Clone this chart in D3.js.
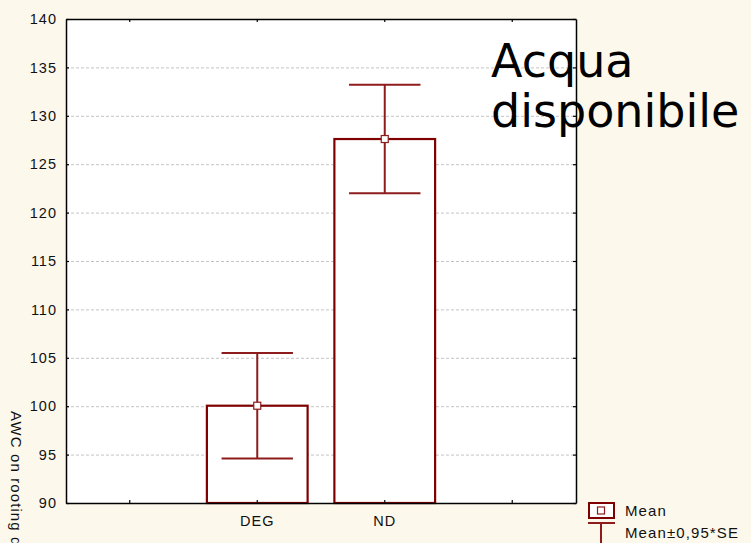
<!DOCTYPE html>
<html>
<head>
<meta charset="utf-8">
<script src="https://cdn.jsdelivr.net/npm/d3@7"></script>
<style>
  html, body { margin: 0; padding: 0; background: #fdf8ec; }
  svg { display: block; }
</style>
</head>
<body>
<svg id="chart" width="751" height="543"></svg>
<script>
// Category slots along the x axis (outer ones are empty)
const slots = ["", "DEG", "ND", " "];
const groups = ["DEG", "ND"];
const means = [100.05, 127.6];
const halfSE = [5.45, 5.6];          // 0.95 * SE
const yTicks = [90, 95, 100, 105, 110, 115, 120, 125, 130, 135, 140];

const W = 751, H = 543;
const plot = { left: 66, right: 576, top: 19, bottom: 503 };
const dark = "#7f0000";
const whisk = "#8e1c1c";
const fontTick = "Liberation Sans, Arial, sans-serif";

const svg = d3.select("#chart");
svg.append("rect").attr("width", W).attr("height", H).attr("fill", "#fdf8ec");

const x = d3.scaleBand().domain(slots).range([plot.left, plot.right]);
const y = d3.scaleLinear().domain([90, 140]).range([plot.bottom, plot.top]);
const step = x.step();
const cx = d => x(d) + step / 2;

// plot area
svg.append("rect")
  .attr("x", plot.left).attr("y", plot.top)
  .attr("width", plot.right - plot.left).attr("height", plot.bottom - plot.top)
  .attr("fill", "#ffffff");

// horizontal grid
svg.append("g").selectAll("line")
  .data(yTicks.filter(t => t > 90 && t < 140))
  .join("line")
  .attr("x1", plot.left).attr("x2", plot.right)
  .attr("y1", d => y(d) + 0.5).attr("y2", d => y(d) + 0.5)
  .attr("stroke", "#c4c4c4").attr("stroke-width", 1)
  .attr("stroke-dasharray", "3,2");

// bars
svg.append("g").selectAll("rect")
  .data(groups)
  .join("rect")
  .attr("x", d => cx(d) - step * 0.395)
  .attr("width", step * 0.79)
  .attr("y", (d, i) => y(means[i]))
  .attr("height", (d, i) => y(90) - y(means[i]))
  .attr("fill", "#ffffff")
  .attr("stroke", dark).attr("stroke-width", 2.2);

// error whiskers
const eg = svg.append("g").attr("stroke", whisk).attr("stroke-width", 2);
groups.forEach((g, i) => {
  const c = cx(g);
  const lo = y(means[i] - halfSE[i]), hi = y(means[i] + halfSE[i]);
  eg.append("line").attr("x1", c).attr("x2", c).attr("y1", hi).attr("y2", lo);
  eg.append("line").attr("x1", c - step * 0.28).attr("x2", c + step * 0.28).attr("y1", hi).attr("y2", hi);
  eg.append("line").attr("x1", c - step * 0.28).attr("x2", c + step * 0.28).attr("y1", lo).attr("y2", lo);
});

// mean markers
svg.append("g").selectAll("rect")
  .data(groups)
  .join("rect")
  .attr("x", d => cx(d) - 3.5).attr("y", (d, i) => y(means[i]) - 3.5)
  .attr("width", 7).attr("height", 7)
  .attr("fill", "#ffffff").attr("stroke", whisk).attr("stroke-width", 1.2);

// axes (ticks point inward, as on a framed plot)
const axLeft = svg.append("g").attr("transform", `translate(${plot.left},0)`)
  .call(d3.axisLeft(y).tickValues(yTicks).tickSizeInner(-3).tickSizeOuter(0).tickPadding(9));
const axRight = svg.append("g").attr("transform", `translate(${plot.right},0)`)
  .call(d3.axisRight(y).tickValues(yTicks).tickSizeInner(-3).tickSizeOuter(0).tickFormat(""));
const axBottom = svg.append("g").attr("transform", `translate(0,${plot.bottom})`)
  .call(d3.axisBottom(x).tickSizeInner(-3).tickSizeOuter(0).tickPadding(13));
const axTop = svg.append("g").attr("transform", `translate(0,${plot.top})`)
  .call(d3.axisTop(x).tickSizeInner(-3).tickSizeOuter(0).tickFormat(""));
[axLeft, axRight, axBottom, axTop].forEach(a => {
  a.select(".domain").attr("stroke", "#000").attr("stroke-width", 1.5);
  a.selectAll(".tick line").attr("stroke", "#000").attr("stroke-width", 1.2);
  a.selectAll("text").attr("fill", "#111").style("font-family", fontTick)
    .style("font-size", "14.5px").attr("letter-spacing", "1px");
});
axBottom.selectAll("text").attr("dy", "0.71em");

// y axis title (runs off the bottom edge)
svg.append("text")
  .attr("transform", "translate(11,411) rotate(90)")
  .attr("font-family", fontTick).attr("font-size", 15).attr("letter-spacing", "1.1px")
  .attr("fill", "#111")
  .text("AWC on rooting depth");

// annotation
const ann = svg.append("text")
  .attr("font-family", "DejaVu Sans, sans-serif").attr("font-size", 46).attr("fill", "#000");
ann.append("tspan").attr("x", 491).attr("y", 77).text("Acqua");
ann.append("tspan").attr("x", 491).attr("y", 127).text("disponibile");

// legend
const lg = svg.append("g");
lg.append("rect").attr("x", 589).attr("y", 503).attr("width", 25).attr("height", 15)
  .attr("fill", "#fff").attr("stroke", dark).attr("stroke-width", 2);
lg.append("rect").attr("x", 597.5).attr("y", 507).attr("width", 7).attr("height", 7)
  .attr("fill", "#fff").attr("stroke", whisk).attr("stroke-width", 1.2);
lg.append("line").attr("x1", 588).attr("x2", 615).attr("y1", 523).attr("y2", 523)
  .attr("stroke", whisk).attr("stroke-width", 2);
lg.append("line").attr("x1", 601).attr("x2", 601).attr("y1", 523).attr("y2", 543)
  .attr("stroke", whisk).attr("stroke-width", 2);
lg.append("text").attr("x", 625).attr("y", 516).attr("font-family", fontTick)
  .attr("font-size", 15).attr("letter-spacing", "1.1px").attr("fill", "#111").text("Mean");
lg.append("text").attr("x", 625).attr("y", 538).attr("font-family", fontTick)
  .attr("font-size", 15).attr("letter-spacing", "1.1px").attr("fill", "#111").text("Mean±0,95*SE");
</script>
</body>
</html>
